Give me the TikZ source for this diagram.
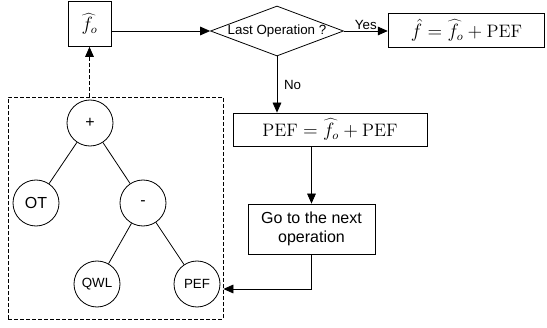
\documentclass[tikz,border=0pt]{standalone}
\usepackage{fontspec}
\setsansfont{Liberation Sans}
\usetikzlibrary{arrows.meta,shapes.geometric,positioning}

\begin{document}
\begin{tikzpicture}[
    x=0.75pt, y=-0.75pt,
    box/.style={draw, line width=0.6pt, inner sep=2pt, align=center},
    leaf/.style={draw, circle, line width=0.6pt, minimum size=34.5pt, inner sep=0pt, font=\sffamily},
    arr/.style={-{Triangle[length=7.5pt,width=6.5pt]}, line width=0.6pt},
    lbl/.style={font=\sffamily\normalsize, inner sep=1pt}
  ]
    \useasboundingbox (0,0) rectangle (547,328);

    % flow chart on the right
    \node[box, minimum width=32.25pt, minimum height=33.75pt, font=\fontsize{13.5}{16}\selectfont] (fo) at (89.5,24) {$\widehat{f_o}$};
    \node[draw, diamond, aspect=2.66, line width=0.6pt, minimum width=99.75pt, minimum height=37.5pt, inner sep=0pt, font=\sffamily\normalsize] (last) at (277,31) {Last Operation ?};
    \node[box, minimum width=117.5pt, minimum height=25.5pt, font=\fontsize{13.5}{16}\selectfont] (result) at (466.5,30) {$\hat{f} = \widehat{f_o} + \mathrm{PEF}$};
    \node[box, minimum width=145.5pt, minimum height=24.75pt, font=\fontsize{13.5}{16}\selectfont] (update) at (330,129.5) {$\mathrm{PEF} = \widehat{f_o} + \mathrm{PEF}$};
    \node[box, minimum width=95.25pt, minimum height=37.5pt, font=\sffamily\large] (next) at (311.5,229) {Go to the next\\operation};

    % expression tree
    \node[draw, dashed, dash pattern=on 3pt off 1.5pt, line width=0.6pt, minimum width=161.25pt, minimum height=166.5pt] (tree) at (115.5,208) {};
    \node[leaf, font=\sffamily\large] (plus) at (90,123) {+};
    \node[leaf, font=\sffamily\large] (ot) at (36,203) {OT};
    \node[leaf, font=\sffamily\large] (minus) at (143,203) {-};
    \node[leaf, font=\sffamily\normalsize] (qwl) at (97,284) {QWL};
    \node[leaf, font=\sffamily\normalsize] (pef) at (197,284) {PEF};

    \draw[line width=0.6pt] (plus) -- (ot);
    \draw[line width=0.6pt] (plus) -- (minus);
    \draw[line width=0.6pt] (minus) -- (qwl);
    \draw[line width=0.6pt] (minus) -- (pef);

    \draw[arr] (fo.east |- last.west) -- (last.west);
    \draw[arr] (last.east) -- node[lbl, above] {Yes} (last.east -| result.west);
    \draw[arr] (last.south) -- node[lbl, right=4pt] {No} (last.south |- update.north);
    \draw[arr] (next.north |- update.south) -- (next.north);
    \draw[arr] (next.south) |- ([yshift=-3.75pt]tree.east |- pef.east);
    \draw[arr, dashed, dash pattern=on 3pt off 1.5pt] (fo.south |- tree.north) -- (fo.south);
  \end{tikzpicture}
\end{document}
